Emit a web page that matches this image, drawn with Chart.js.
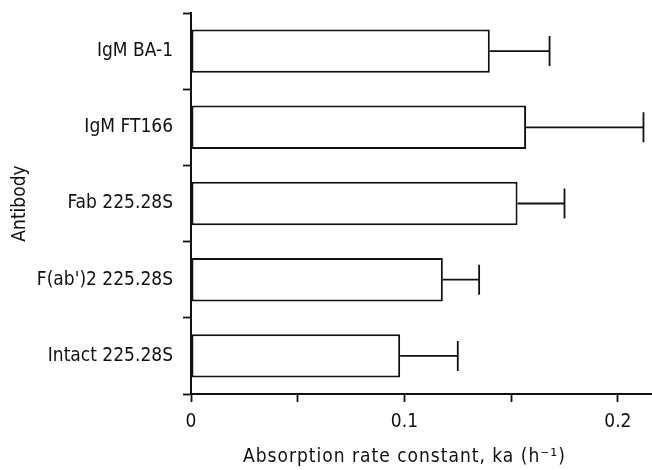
<!DOCTYPE html>
<html>
<head>
<meta charset="utf-8">
<script src="https://cdn.jsdelivr.net/npm/chart.js@4"></script>
<style>
  html, body { margin: 0; padding: 0; background: #fff; }
  #wrap { width: 652px; height: 470px; }
</style>
</head>
<body>
<div id="wrap"><canvas id="c" width="652" height="470"></canvas></div>
<script>
// Antibody preparations, top to bottom
const antibodies = ['IgM BA-1', 'IgM FT166', 'Fab 225.28S', "F(ab')2 225.28S", 'Intact 225.28S'];
// Absorption rate constant ka (h^-1), mean
const kaMean = [0.140, 0.157, 0.153, 0.118, 0.098];
// Upper error (SD) for each mean
const kaError = [0.028, 0.055, 0.022, 0.017, 0.027];
// Labelled x ticks
const xTickLabels = [0, 0.1, 0.2];

const FONT = "'DejaVu Sans Condensed', 'DejaVu Sans', sans-serif";
const INK = '#111';

// One-sided error whiskers to the right of each bar
const errorWhiskers = {
  id: 'errorWhiskers',
  afterDatasetsDraw(chart) {
    const { ctx, scales: { x } } = chart;
    const meta = chart.getDatasetMeta(0);
    ctx.save();
    ctx.strokeStyle = INK;
    ctx.lineWidth = 1.8;
    meta.data.forEach((bar, i) => {
      const xEnd = x.getPixelForValue(kaMean[i] + kaError[i]);
      const half = bar.height * 0.345;
      ctx.beginPath();
      ctx.moveTo(bar.x, bar.y);
      ctx.lineTo(xEnd, bar.y);
      ctx.moveTo(xEnd, bar.y - half);
      ctx.lineTo(xEnd, bar.y + half);
      ctx.stroke();
    });
    ctx.restore();
  }
};

// X-axis caption, centred under the 0.1 tick
const xCaption = {
  id: 'xCaption',
  afterDraw(chart) {
    const { ctx, scales: { x } } = chart;
    ctx.save();
    ctx.fillStyle = INK;
    ctx.font = '19px ' + FONT;
    ctx.letterSpacing = '1px';
    ctx.textAlign = 'center';
    ctx.textBaseline = 'middle';
    ctx.fillText('Absorption rate constant, ka (h\u207B\u00B9)', x.getPixelForValue(0.1), 457);
    ctx.restore();
  }
};

new Chart(document.getElementById('c'), {
  type: 'bar',
  data: {
    labels: antibodies,
    datasets: [{
      data: kaMean,
      backgroundColor: '#fff',
      borderColor: INK,
      borderWidth: 2,
      borderSkipped: false,
      barPercentage: 0.57,
      categoryPercentage: 1.0
    }]
  },
  options: {
    indexAxis: 'y',
    responsive: false,
    animation: false,
    layout: { padding: { top: 13, right: 0, left: 0, bottom: 0 } },
    plugins: { legend: { display: false }, tooltip: { enabled: false } },
    scales: {
      x: {
        type: 'linear',
        min: 0,
        max: 0.216,
        border: { display: true, color: INK, width: 2 },
        grid: { drawOnChartArea: false, drawTicks: true, tickLength: 8, tickColor: INK, tickWidth: 1.8 },
        ticks: {
          stepSize: 0.05,
          includeBounds: false,
          autoSkip: false,
          maxRotation: 0,
          color: INK,
          padding: 9,
          font: { family: FONT, size: 19 },
          callback: (v) => {
            const hit = xTickLabels.find(t => Math.abs(t - v) < 1e-9);
            return hit === undefined ? '' : String(hit);
          }
        },
        afterFit(scale) { scale.height = 76; }
      },
      y: {
        type: 'category',
        offset: true,
        border: { display: true, color: INK, width: 2 },
        grid: { offset: true, drawOnChartArea: false, drawTicks: true, tickLength: 8, tickColor: INK, tickWidth: 1.8 },
        ticks: {
          color: INK,
          padding: 10,
          font: { family: FONT, size: 19 }
        },
        title: {
          display: true,
          text: 'Antibody',
          color: INK,
          padding: { top: 9, bottom: 4 },
          font: { family: FONT, size: 19 }
        },
        afterFit(scale) {
          scale.width = 191;
          scale.paddingTop = 0;
          scale.paddingBottom = 0;
        }
      }
    }
  },
  plugins: [errorWhiskers, xCaption]
});
</script>
</body>
</html>
